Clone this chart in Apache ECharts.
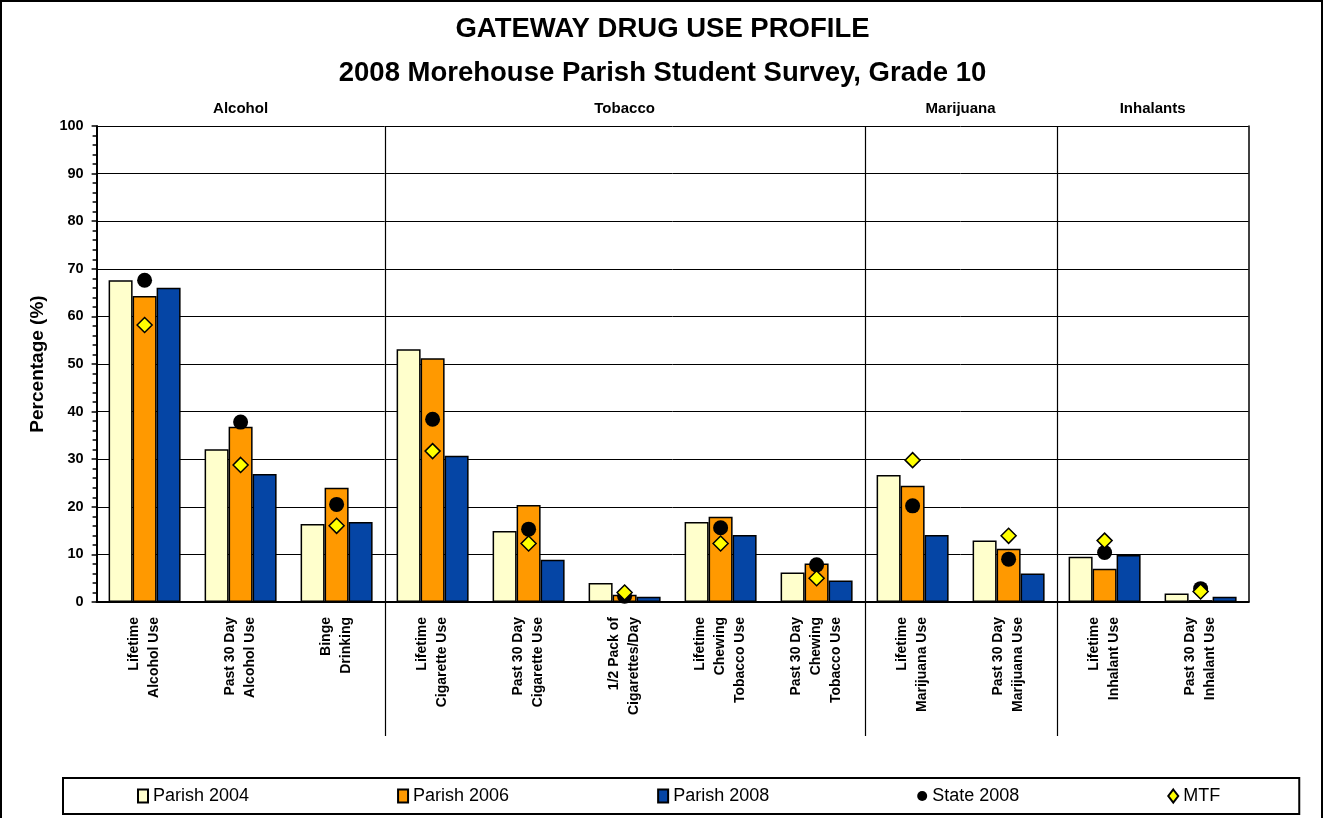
<!DOCTYPE html>
<html>
<head>
<meta charset="utf-8">
<script src="https://cdn.jsdelivr.net/npm/echarts@6/dist/echarts.min.js"></script>
<style>
html, body { margin: 0; padding: 0; background: #fff; overflow: hidden; }
#chart { width: 1325px; height: 818px; }
</style>
</head>
<body>
<div id="chart"></div>
<script>
// categories along the bottom axis
const categories = [
  'Lifetime\nAlcohol Use', 'Past 30 Day\nAlcohol Use', 'Binge\nDrinking',
  'Lifetime\nCigarette Use', 'Past 30 Day\nCigarette Use', '1/2 Pack of\nCigarettes/Day',
  'Lifetime\nChewing\nTobacco Use', 'Past 30 Day\nChewing\nTobacco Use',
  'Lifetime\nMarijuana Use', 'Past 30 Day\nMarijuana Use',
  'Lifetime\nInhalant Use', 'Past 30 Day\nInhalant Use'
]
const groupNames = ['Alcohol', 'Tobacco', 'Marijuana', 'Inhalants']
const groupSizes = [3, 5, 2, 2]

const parish2004 = [67.6, 32.1, 16.4, 53.1, 14.9, 4.0, 16.8, 6.2, 26.7, 12.9, 9.5, 1.8]
const parish2006 = [64.3, 36.8, 24.0, 51.2, 20.4, 1.5, 17.9, 8.1, 24.4, 11.2, 7.0, 0.4]
const parish2008 = [66.0, 26.9, 16.8, 30.7, 8.9, 1.1, 14.1, 4.5, 14.1, 6.0, 9.9, 1.1]
const state2008 = [67.6, 37.8, 20.5, 38.4, 15.3, 1.2, 15.6, 7.8, 20.2, 9.0, 10.4, 2.8]
const mtf = [58.2, 28.8, 16.0, 31.7, 12.3, 2.0, 12.3, 5.0, 29.8, 13.9, 12.9, 2.2]

const FONT = "'Liberation Sans', Arial, sans-serif"

// group centres / boundaries in category units
const groupCenters = []
const groupBounds = []
let acc = 0
groupSizes.forEach(s => {
  groupCenters.push(acc + s / 2)
  acc += s
  groupBounds.push(acc)
})

const barStyle = (color) => ({ color: color, borderColor: '#000', borderWidth: 1.5 })

const options = {
  animation: false,
  textStyle: { fontFamily: FONT },
  title: [
    {
      text: 'GATEWAY DRUG USE PROFILE',
      left: 'center',
      top: 10,
      textStyle: { fontFamily: FONT, fontSize: 27.5, fontWeight: 'bold', color: '#000' }
    },
    {
      text: '2008 Morehouse Parish Student Survey, Grade 10',
      left: 'center',
      top: 54,
      textStyle: { fontFamily: FONT, fontSize: 27.5, fontWeight: 'bold', color: '#000' }
    }
  ],
  legend: {
    left: 63,
    top: 778,
    padding: [9, 79, 9, 74],
    itemGap: 148,
    itemWidth: 10,
    itemHeight: 13,
    selectedMode: false,
    borderColor: '#000',
    borderWidth: 2,
    textStyle: { fontFamily: FONT, fontSize: 18, color: '#000' },
    data: [
      { name: 'Parish 2004', icon: 'rect' },
      { name: 'Parish 2006', icon: 'rect' },
      { name: 'Parish 2008', icon: 'rect' },
      { name: 'State 2008', icon: 'circle' },
      { name: 'MTF', icon: 'diamond' }
    ]
  },
  grid: {
    left: 96.6,
    right: 76.4,
    top: 126,
    bottom: 216
  },
  xAxis: [
    {
      type: 'category',
      data: categories,
      axisLine: { lineStyle: { color: '#000', width: 2 } },
      axisTick: { show: false },
      axisLabel: {
        interval: 0,
        rotate: 90,
        margin: 15,
        fontFamily: FONT,
        fontSize: 14,
        fontWeight: 'bold',
        lineHeight: 20,
        color: '#000'
      }
    },
    {
      // group headings above the plot
      type: 'value',
      position: 'top',
      min: 0,
      max: 12,
      interval: 0.5,
      axisLine: { show: false },
      axisTick: { show: false },
      splitLine: { show: false },
      axisLabel: {
        margin: 10,
        fontFamily: FONT,
        fontSize: 15,
        fontWeight: 'bold',
        color: '#000',
        formatter: (v) => {
          const i = groupCenters.findIndex(c => Math.abs(c - v) < 1e-6)
          return i >= 0 ? groupNames[i] : ''
        }
      }
    }
  ],
  yAxis: [
    {
      type: 'value',
      min: 0,
      max: 100,
      interval: 10,
      name: 'Percentage (%)',
      nameLocation: 'middle',
      nameGap: 49,
      nameTextStyle: { fontFamily: FONT, fontSize: 19, fontWeight: 'bold', color: '#000' },
      axisLine: { show: true, lineStyle: { color: '#000', width: 2 } },
      axisTick: { show: true, length: 5, lineStyle: { color: '#000', width: 1.5 } },
      minorTick: { show: true, splitNumber: 5, length: 4, lineStyle: { color: '#000', width: 1.5 } },
      splitLine: { show: true, lineStyle: { color: '#000', width: 1 } },
      axisLabel: { margin: 13, fontFamily: FONT, fontSize: 14.5, fontWeight: 'bold', color: '#000' }
    },
    {
      // right plot border
      type: 'value',
      position: 'right',
      min: 0,
      max: 100,
      axisLine: { show: true, lineStyle: { color: '#000', width: 1.5 } },
      axisTick: { show: false },
      axisLabel: { show: false },
      splitLine: { show: false }
    }
  ],
  series: [
    {
      name: 'Parish 2004',
      type: 'bar',
      barGap: '0%',
      barCategoryGap: '25%',
      itemStyle: barStyle('#FFFFCC'),
      data: parish2004
    },
    {
      name: 'Parish 2006',
      type: 'bar',
      itemStyle: barStyle('#FF9900'),
      data: parish2006
    },
    {
      name: 'Parish 2008',
      type: 'bar',
      itemStyle: barStyle('#0545A5'),
      data: parish2008
    },
    {
      name: 'State 2008',
      type: 'scatter',
      symbol: 'circle',
      symbolSize: 15,
      z: 5,
      itemStyle: { color: '#000', opacity: 1 },
      data: state2008
    },
    {
      name: 'MTF',
      type: 'scatter',
      symbol: 'diamond',
      symbolSize: 15,
      z: 6,
      itemStyle: { color: '#FFFF00', borderColor: '#000', borderWidth: 1.5, opacity: 1 },
      data: mtf
    }
  ]
}

const chartInstance = echarts.init(document.getElementById('chart'))
chartInstance.setOption(options)

// group dividers run from the plot top down through the label area
const yTop = chartInstance.convertToPixel({ yAxisIndex: 0 }, 100)
const dividers = groupBounds.slice(0, -1).map(b => {
  const x = Math.round(chartInstance.convertToPixel({ xAxisIndex: 1 }, b)) + 0.5
  return {
    type: 'line',
    shape: { x1: x, y1: yTop, x2: x, y2: 736 },
    style: { stroke: '#000', lineWidth: 1.2 },
    z: 10
  }
})
chartInstance.setOption({
  graphic: [
    ...dividers,
    {
      type: 'rect',
      shape: { x: 1, y: 1, width: 1321, height: 840 },
      style: { fill: 'none', stroke: '#000', lineWidth: 2 },
      z: 10
    }
  ]
})
</script>
</body>
</html>
